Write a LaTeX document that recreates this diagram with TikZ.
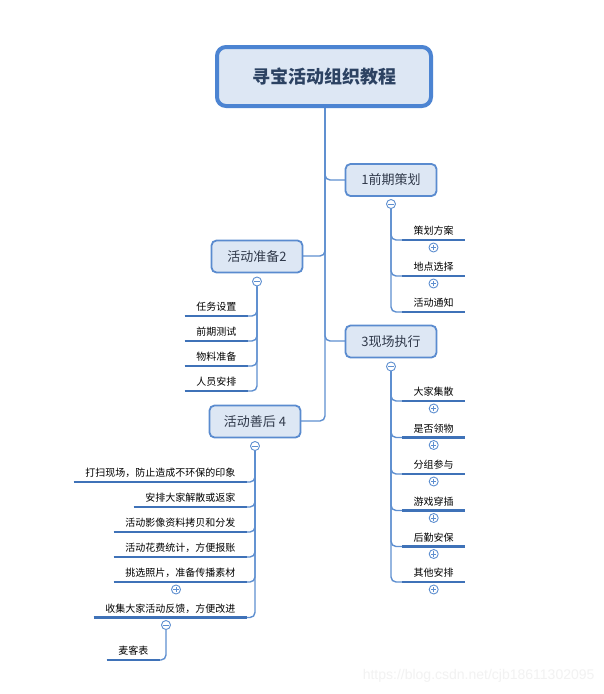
\documentclass[tikz,border=0pt]{standalone}
\usepackage{fontspec}
\setmainfont{Noto Sans CJK SC}
\newfontfamily\wmfont{Liberation Sans}
\definecolor{linec}{HTML}{5E8FD0}
\definecolor{ulc}{HTML}{3F72B8}
\definecolor{boxfill}{HTML}{DDE7F4}
\definecolor{boxdraw}{HTML}{5A8BCF}
\definecolor{titledraw}{HTML}{4C84D2}
\definecolor{titletext}{HTML}{2C4262}
\definecolor{brtext}{HTML}{30394A}
\begin{document}
\begin{tikzpicture}[x=1pt,y=-1pt,
  titlebox/.style={draw=titledraw, fill=boxfill, line width=4pt, rounded corners=9pt,
    minimum width=214pt, minimum height=59pt, font=\fontsize{18}{20}\selectfont\bfseries, text=titletext},
  branchbox/.style={draw=boxdraw, fill=boxfill, line width=1.8pt, rounded corners=5pt,
    minimum width=91pt, minimum height=32pt, font=\fontsize{13}{15}\selectfont, text=brtext},
  leafnode/.style={inner xsep=11.5pt, inner ysep=3pt, text height=8pt, text depth=2pt,
    font=\fontsize{10}{12}\selectfont, text=black},
  uline/.style={draw=ulc, line width=2.6pt},
  conn/.style={draw=linec, line width=1.4pt, rounded corners=5pt},
  tog/.style={circle, draw=linec, fill=white, line width=0.9pt, minimum size=9pt, inner sep=0pt},
  minus/.style={tog, path picture={\draw[linec, line width=0.8pt] ([xshift=-2.6pt]path picture bounding box.center) -- ([xshift=2.6pt]path picture bounding box.center);}},
  plus/.style={tog, path picture={\draw[linec, line width=0.8pt] ([xshift=-2.6pt]path picture bounding box.center) -- ([xshift=2.6pt]path picture bounding box.center) ([yshift=-2.6pt]path picture bounding box.center) -- ([yshift=2.6pt]path picture bounding box.center);}}
]
\useasboundingbox[fill=white] (0,0) rectangle (604,694);

% trunk connectors (drawn first)
\coordinate (tr) at (325,108);
\draw[conn] (tr) |- (391,180);
\draw[conn] (tr) |- (257,256);
\draw[conn] (tr) |- (391,341);
\draw[conn] (tr) |- (255,421);

% title and branches
\node[titlebox] (t) at (324,76.5) {寻宝活动组织教程};
\node[branchbox] (b1) at (391,180) {1前期策划};
\node[branchbox] (b2) at (257,256.5) {活动准备2};
\node[branchbox] (b3) at (391,341.5) {3现场执行};
\node[branchbox] (b4) at (255,421.5) {活动善后 4};

% toggles below branches
\node[minus] (c1) at (391,204) {};
\node[minus] (c2) at (257,281.5) {};
\node[minus] (c3) at (391,366.5) {};
\node[minus] (c4) at (255,446) {};

% branch 1 leaves
\foreach \n/\y/\txt in {r1/240/策划方案, r2/276/地点选择, r3/312/活动通知}{
  \node[leafnode, anchor=south west] (\n) at (402,\y) {\txt};
  \draw[conn] (c1.south) |- (\n.south west);
  \draw[uline] (\n.south west) -- (\n.south east);
}
\node[plus] (pr1) at (433.5,247.5) {};
\node[plus] (pr2) at (433.5,283.5) {};

% branch 2 leaves
\foreach \n/\y/\txt in {l1/316/任务设置, l2/341/前期测试, l3/366/物料准备, l4/391/人员安排}{
  \node[leafnode, anchor=south east] (\n) at (248,\y) {\txt};
  \draw[conn] (c2.south) |- (\n.south east);
  \draw[uline] (\n.south west) -- (\n.south east);
}

% branch 3 leaves
\foreach \n/\y/\txt in {e1/401/大家集散, e2/437.5/是否领物, e3/474/分组参与, e4/510.5/游戏穿插, e5/546.5/后勤安保, e6/582/其他安排}{
  \node[leafnode, anchor=south west] (\n) at (402,\y) {\txt};
  \draw[conn] (c3.south) |- (\n.south west);
  \draw[uline] (\n.south west) -- (\n.south east);
  \node[plus] (p\n) at ([yshift=-7.5pt]\n.south) {};
}

% branch 4 leaves
\foreach \n/\y/\txt in {d1/482/打扫现场，防止造成不环保的印象, d2/507/安排大家解散或返家, d3/532/活动影像资料拷贝和分发, d4/557/活动花费统计，方便报账, d5/582/挑选照片，准备传播素材, d6/617.5/收集大家活动反馈，方便改进}{
  \node[leafnode, anchor=south east] (\n) at (247,\y) {\txt};
  \draw[conn] (c4.south) |- (\n.south east);
  \draw[uline] (\n.south west) -- (\n.south east);
}
\node[plus] (pd5) at (176,589.5) {};
\node[minus] (md6) at (166,625) {};

\node[leafnode, anchor=south east] (m1) at (160,660) {麦客表};
\draw[conn] (md6.south) |- (m1.south east);
\draw[uline] (m1.south west) -- (m1.south east);

% watermark
\node[font=\wmfont\fontsize{14}{16}\selectfont, text=black!5, anchor=east] (wm) at (598,676) {https://blog.csdn.net/cjb18611302095};
\end{tikzpicture}
\end{document}
